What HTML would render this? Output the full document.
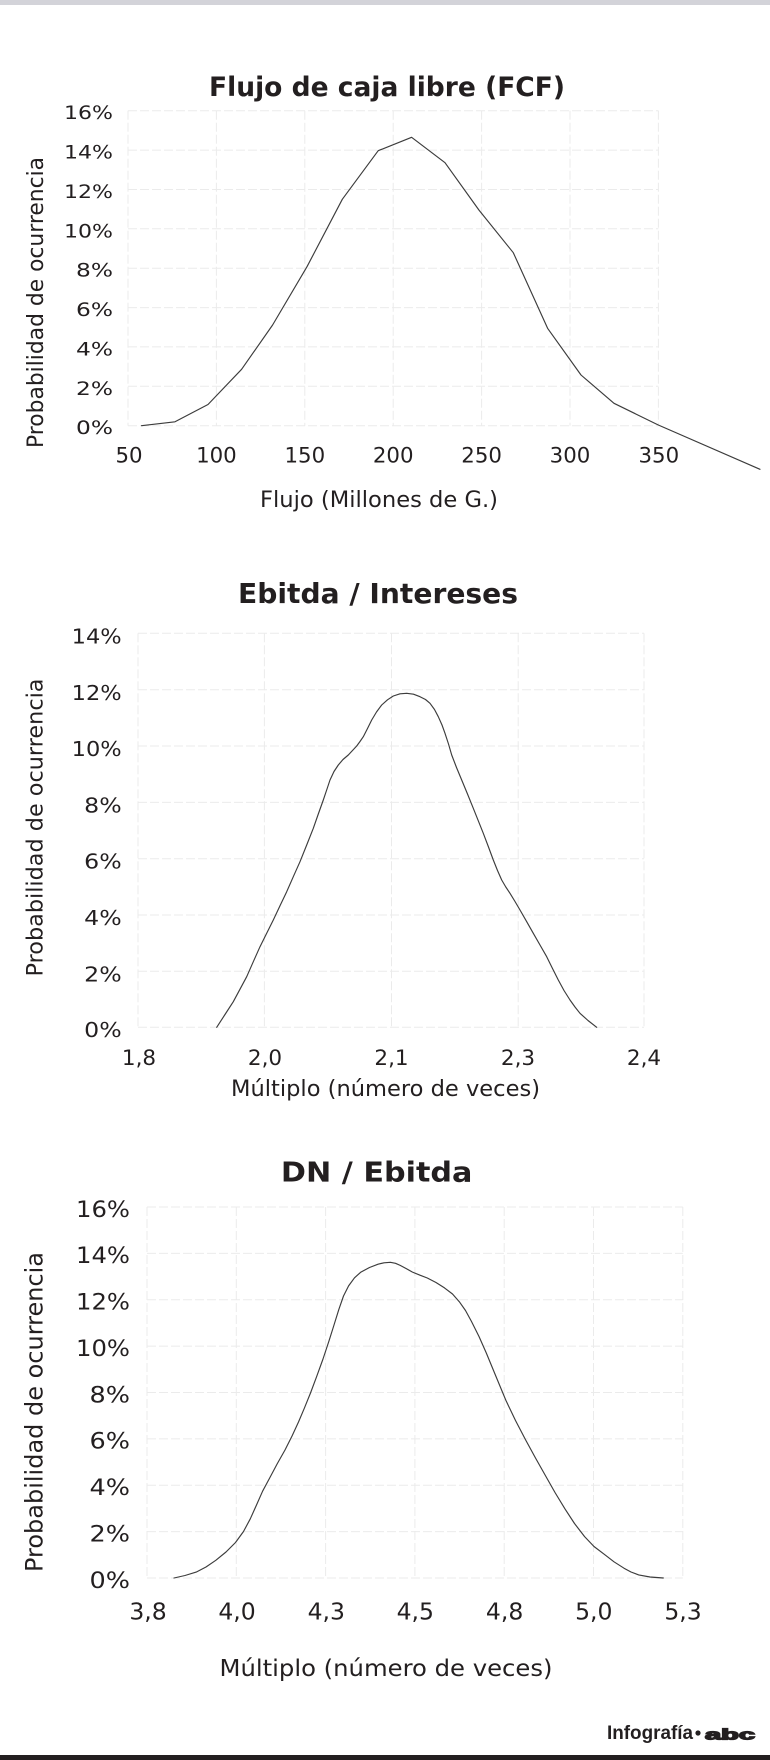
<!DOCTYPE html>
<html>
<head>
<meta charset="utf-8">
<style>
  html, body { margin: 0; padding: 0; background: #ffffff; }
  body { width: 770px; height: 1760px; overflow: hidden; }
  svg { display: block; }
  .t { font-family: "DejaVu Sans", "Liberation Sans", sans-serif; fill: #231f20; }
  .b { font-weight: bold; }
  .g { stroke: #ebebeb; stroke-width: 1; stroke-dasharray: 9 3; fill: none; }
  .c { stroke: #3c3c3c; stroke-width: 1.15; fill: none; stroke-linejoin: round; stroke-linecap: round; }
</style>
</head>
<body>
<svg width="770" height="1760" viewBox="0 0 770 1760" xmlns="http://www.w3.org/2000/svg">
  <rect x="0" y="0" width="770" height="1760" fill="#ffffff"/>
  <rect x="0" y="0" width="770" height="5" fill="#d3d3d9"/>

  <!-- ================= CHART 1 ================= -->
  <text class="t b" x="387" y="96" font-size="27" text-anchor="middle" textLength="356" lengthAdjust="spacingAndGlyphs">Flujo de caja libre (FCF)</text>

  <g class="g">
    <line x1="128" y1="110.7" x2="658.4" y2="110.7"/>
    <line x1="128" y1="150.1" x2="658.4" y2="150.1"/>
    <line x1="128" y1="189.5" x2="658.4" y2="189.5"/>
    <line x1="128" y1="228.8" x2="658.4" y2="228.8"/>
    <line x1="128" y1="268.2" x2="658.4" y2="268.2"/>
    <line x1="128" y1="307.6" x2="658.4" y2="307.6"/>
    <line x1="128" y1="346.9" x2="658.4" y2="346.9"/>
    <line x1="128" y1="386.3" x2="658.4" y2="386.3"/>
    <line x1="128" y1="425.7" x2="658.4" y2="425.7"/>
    <line x1="128" y1="110.7" x2="128" y2="425.7"/>
    <line x1="216.4" y1="110.7" x2="216.4" y2="425.7"/>
    <line x1="304.8" y1="110.7" x2="304.8" y2="425.7"/>
    <line x1="393.2" y1="110.7" x2="393.2" y2="425.7"/>
    <line x1="481.6" y1="110.7" x2="481.6" y2="425.7"/>
    <line x1="570" y1="110.7" x2="570" y2="425.7"/>
    <line x1="658.4" y1="110.7" x2="658.4" y2="425.7"/>
  </g>

  <g class="t" font-size="19" text-anchor="end">
    <text x="113" y="119.2" textLength="49" lengthAdjust="spacingAndGlyphs">16%</text>
    <text x="113" y="158.6" textLength="49" lengthAdjust="spacingAndGlyphs">14%</text>
    <text x="113" y="198" textLength="49" lengthAdjust="spacingAndGlyphs">12%</text>
    <text x="113" y="237.3" textLength="49" lengthAdjust="spacingAndGlyphs">10%</text>
    <text x="113" y="276.7" textLength="37" lengthAdjust="spacingAndGlyphs">8%</text>
    <text x="113" y="316.1" textLength="37" lengthAdjust="spacingAndGlyphs">6%</text>
    <text x="113" y="355.4" textLength="37" lengthAdjust="spacingAndGlyphs">4%</text>
    <text x="113" y="394.8" textLength="37" lengthAdjust="spacingAndGlyphs">2%</text>
    <text x="113" y="434.2" textLength="37" lengthAdjust="spacingAndGlyphs">0%</text>
  </g>
  <g class="t" font-size="21.3" text-anchor="middle">
    <text x="129" y="462.5">50</text>
    <text x="216.4" y="462.5">100</text>
    <text x="304.8" y="462.5">150</text>
    <text x="393.2" y="462.5">200</text>
    <text x="481.6" y="462.5">250</text>
    <text x="570" y="462.5">300</text>
    <text x="658.8" y="462.5">350</text>
  </g>
  <text class="t" x="379" y="507" font-size="22" text-anchor="middle" textLength="238" lengthAdjust="spacingAndGlyphs">Flujo (Millones de G.)</text>
  <text class="t" transform="translate(43,302.5) rotate(-90)" x="0" y="0" font-size="22" text-anchor="middle" textLength="291" lengthAdjust="spacingAndGlyphs">Probabilidad de ocurrencia</text>

  <polyline class="c" points="141.5,425.7 175,421.8 208,404.5 241.6,369.3 272.6,325 307,266.7 342.3,199.3 378.2,150.7 411.6,137.3 445,162.7 478.9,210 513.3,252.7 547.6,328.3 581,375 614,403.3 658.3,425 760,469.3"/>

  <!-- ================= CHART 2 ================= -->
  <text class="t b" x="378" y="602.9" font-size="28" text-anchor="middle" textLength="280" lengthAdjust="spacingAndGlyphs">Ebitda / Intereses</text>

  <g class="g">
    <line x1="138" y1="633.3" x2="644" y2="633.3"/>
    <line x1="138" y1="689.8" x2="644" y2="689.8"/>
    <line x1="138" y1="746" x2="644" y2="746"/>
    <line x1="138" y1="802.4" x2="644" y2="802.4"/>
    <line x1="138" y1="858.7" x2="644" y2="858.7"/>
    <line x1="138" y1="915" x2="644" y2="915"/>
    <line x1="138" y1="971.3" x2="644" y2="971.3"/>
    <line x1="138" y1="1027.3" x2="644" y2="1027.3"/>
    <line x1="138" y1="633.3" x2="138" y2="1027.3"/>
    <line x1="264.4" y1="633.3" x2="264.4" y2="1027.3"/>
    <line x1="391.5" y1="633.3" x2="391.5" y2="1027.3"/>
    <line x1="518.2" y1="633.3" x2="518.2" y2="1027.3"/>
    <line x1="644" y1="633.3" x2="644" y2="1027.3"/>
  </g>

  <g class="t" font-size="20.5" text-anchor="end">
    <text x="121.7" y="643.3" textLength="50" lengthAdjust="spacingAndGlyphs">14%</text>
    <text x="121.7" y="699.8" textLength="50" lengthAdjust="spacingAndGlyphs">12%</text>
    <text x="121.7" y="756" textLength="50" lengthAdjust="spacingAndGlyphs">10%</text>
    <text x="121.7" y="812.4" textLength="37.5" lengthAdjust="spacingAndGlyphs">8%</text>
    <text x="121.7" y="868.7" textLength="37.5" lengthAdjust="spacingAndGlyphs">6%</text>
    <text x="121.7" y="925" textLength="37.5" lengthAdjust="spacingAndGlyphs">4%</text>
    <text x="121.7" y="981.3" textLength="37.5" lengthAdjust="spacingAndGlyphs">2%</text>
    <text x="121.7" y="1037" textLength="37.5" lengthAdjust="spacingAndGlyphs">0%</text>
  </g>
  <g class="t" font-size="21.5" text-anchor="middle">
    <text x="139" y="1065">1,8</text>
    <text x="265" y="1065">2,0</text>
    <text x="391.5" y="1065">2,1</text>
    <text x="518" y="1065">2,3</text>
    <text x="644" y="1065">2,4</text>
  </g>
  <text class="t" x="385.5" y="1096" font-size="22" text-anchor="middle" textLength="309" lengthAdjust="spacingAndGlyphs">Múltiplo (número de veces)</text>
  <text class="t" transform="translate(42.7,827.5) rotate(-90)" x="0" y="0" font-size="22.2" text-anchor="middle" textLength="298" lengthAdjust="spacingAndGlyphs">Probabilidad de ocurrencia</text>

  <polyline class="c" points="216.7,1027.3 225,1014.5 233.3,1001.7 240,989.2 246.7,976.7 253.3,961.7 260,946.7 266.7,933.3 273.3,920 280,905.8 286.7,891.7 293.3,876.7 300,861.7 306.7,845 313.3,828.3 318.3,814 323.3,800 327,789 330,780 334,771.5 338.3,765 343,759.5 348.3,755 352.5,750.5 356.7,746 360,741.5 363.3,736.7 367.5,728.5 371.7,720 376.5,712 381.7,705 387.5,699.8 393.3,696 400,693.8 406.7,693.3 413.5,694.2 420,696.7 425.5,699.5 430,703.3 434.5,709.5 438.3,716.7 442,725 445,733.3 448.5,744 451.7,755 456.5,767.5 461.7,780 467.5,794 473.3,808.3 478.3,820.8 483.3,833.3 488.3,846.5 493.3,860 497.5,870.5 501.7,880 505.8,887 510,893.3 515,901.5 520,910 526.7,921.7 533.3,933.3 540,945 546.7,956.7 552.5,968.5 558.3,980 564,990.5 570,1000 575,1007 580,1013.3 588,1020.5 596.7,1027.3"/>

  <!-- ================= CHART 3 ================= -->
  <text class="t b" x="376.7" y="1181.5" font-size="28" text-anchor="middle" textLength="191.5" lengthAdjust="spacingAndGlyphs">DN / Ebitda</text>

  <g class="g">
    <line x1="147" y1="1207" x2="682.8" y2="1207"/>
    <line x1="147" y1="1253.4" x2="682.8" y2="1253.4"/>
    <line x1="147" y1="1299.8" x2="682.8" y2="1299.8"/>
    <line x1="147" y1="1346.1" x2="682.8" y2="1346.1"/>
    <line x1="147" y1="1392.5" x2="682.8" y2="1392.5"/>
    <line x1="147" y1="1438.9" x2="682.8" y2="1438.9"/>
    <line x1="147" y1="1485.3" x2="682.8" y2="1485.3"/>
    <line x1="147" y1="1531.6" x2="682.8" y2="1531.6"/>
    <line x1="147" y1="1578" x2="682.8" y2="1578"/>
    <line x1="147" y1="1207" x2="147" y2="1578"/>
    <line x1="236.3" y1="1207" x2="236.3" y2="1578"/>
    <line x1="325.6" y1="1207" x2="325.6" y2="1578"/>
    <line x1="414.9" y1="1207" x2="414.9" y2="1578"/>
    <line x1="504.2" y1="1207" x2="504.2" y2="1578"/>
    <line x1="593.5" y1="1207" x2="593.5" y2="1578"/>
    <line x1="682.8" y1="1207" x2="682.8" y2="1578"/>
  </g>

  <g class="t" font-size="22" text-anchor="end">
    <text x="130" y="1216.8" textLength="54" lengthAdjust="spacingAndGlyphs">16%</text>
    <text x="130" y="1263.2" textLength="54" lengthAdjust="spacingAndGlyphs">14%</text>
    <text x="130" y="1309.6" textLength="54" lengthAdjust="spacingAndGlyphs">12%</text>
    <text x="130" y="1355.9" textLength="54" lengthAdjust="spacingAndGlyphs">10%</text>
    <text x="130" y="1402.3" textLength="40.5" lengthAdjust="spacingAndGlyphs">8%</text>
    <text x="130" y="1448.7" textLength="40.5" lengthAdjust="spacingAndGlyphs">6%</text>
    <text x="130" y="1495.1" textLength="40.5" lengthAdjust="spacingAndGlyphs">4%</text>
    <text x="130" y="1541.4" textLength="40.5" lengthAdjust="spacingAndGlyphs">2%</text>
    <text x="130" y="1588.2" textLength="40.5" lengthAdjust="spacingAndGlyphs">0%</text>
  </g>
  <g class="t" font-size="23.5" text-anchor="middle">
    <text x="148" y="1619.5">3,8</text>
    <text x="237" y="1619.5">4,0</text>
    <text x="326.3" y="1619.5">4,3</text>
    <text x="415.3" y="1619.5">4,5</text>
    <text x="504.6" y="1619.5">4,8</text>
    <text x="593.8" y="1619.5">5,0</text>
    <text x="683" y="1619.5">5,3</text>
  </g>
  <text class="t" x="386" y="1676" font-size="23.5" text-anchor="middle" textLength="333" lengthAdjust="spacingAndGlyphs">Múltiplo (número de veces)</text>
  <text class="t" transform="translate(42.7,1412) rotate(-90)" x="0" y="0" font-size="23.8" text-anchor="middle" textLength="320" lengthAdjust="spacingAndGlyphs">Probabilidad de ocurrencia</text>

  <polyline class="c" points="174,1578 185,1575.5 196.2,1572.1 206,1567 215.8,1560.3 226,1552 235.5,1542.5 243.5,1531.5 250.3,1518.8 256.5,1505 262.6,1491.2 270,1477.4 277.3,1463.6 285,1450 292.1,1435.9 298.5,1422 304.3,1408.3 310.5,1393 316.6,1376.7 323,1359 328.9,1341.2 334,1325 338.8,1309.6 343.5,1296 348.6,1285.9 354.5,1277.8 360.9,1272.1 369.5,1267.5 378.1,1264.2 384,1262.8 390.4,1262.3 395.5,1263.3 400.2,1265.4 406.5,1268.8 412.5,1272.1 420,1275.2 427.3,1278 436,1282.5 444.5,1287.9 452.5,1294 459.3,1301.7 465.5,1310.5 471.5,1321.5 479,1336.5 486.3,1353 496,1376.5 505.9,1400.4 515.5,1420.5 525.6,1439.9 535.5,1458 545.3,1475.4 555,1492.5 565,1508.9 574.5,1523.5 584.6,1536.6 594,1546.5 604.3,1554.3 614,1561.8 624,1568.2 631,1572 638.7,1574.9 650,1577 663.3,1578"/>

  <!-- ================= FOOTER ================= -->
  <text x="607" y="1739" font-family="'Liberation Sans Narrow', 'Liberation Sans', sans-serif" font-weight="bold" font-size="19" fill="#231f20" textLength="86" lengthAdjust="spacingAndGlyphs">Infografía</text>
  <circle cx="698" cy="1733" r="2.6" fill="#231f20"/>
  <text x="705" y="1739.5" font-family="'Liberation Sans', sans-serif" font-weight="bold" font-size="15" fill="#231f20" stroke="#231f20" stroke-width="1.3" textLength="50" lengthAdjust="spacingAndGlyphs">abc</text>

  <rect x="0" y="1755" width="770" height="5" fill="#231f20"/>
</svg>
</body>
</html>
